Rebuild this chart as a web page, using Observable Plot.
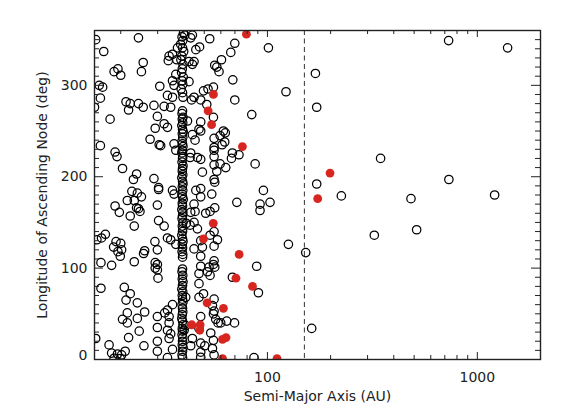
<!DOCTYPE html>
<html><head><meta charset="utf-8">
<script src="https://cdn.jsdelivr.net/npm/d3@7"></script>
<script src="https://cdn.jsdelivr.net/npm/@observablehq/plot@0.6"></script>
<style>body{margin:0;background:#fff}</style>
</head><body><div id="chart"></div>
<script>
// Black open circles: semi-major axis (AU) and longitude of ascending node (deg)
const blackAU = [122.6,169.3,171.7,730,1394,346,171.7,225,483,732,1209,323,514,125.9,152.2,162.5,101.1,84.2,87.4,95.7,92.2,92.2,102.9,88.9,90.6,86.3,
53.1,69.9,66.9,60.4,56.1,57.4,58.8,68.4,55.3,52.1,49.6,69.9,48.1,51.4,55.3,48.1,48.1,61.7,63.0,62.6,60.8,55.7,55.7,68.1,73.2,67.4,55.7,48.1,59.5,63.3,57.4,49.0,55.7,56.1,48.1,48.1,54.3,71.5,56.1,53.3,50.8,53.3,55.7,57.8,55.7,49.0,48.1,55.7,55.3,56.1,52.7,51.8,53.3,48.1,68.1,49.6,55.7,54.7,55.7,55.3,56.7,58.2,59.9,64.0,69.7,48.1,53.7,55.3,50.3,55.7,
43.9,43.1,40.4,47.5,45.6,42.3,44.7,43.9,42.3,43.5,59.5,43.9,55.7,43.1,42.8,46.4,55.7,44.7,43.1,44.7,42.8,41.1,48.1,44.7,47.2,40.8,43.9,54.7,48.1,48.1,48.1,43.1,40.8,40.1,44.7,47.2,45.2,41.6,45.6,45.2,46.4,47.2,47.2,47.2,
34.0,35.3,33.7,37.3,37.0,36.6,35.3,35.9,33.4,35.3,34.6,33.4,35.9,36.6,35.3,35.9,33.4,34.6,36.6,33.4,34.0,34.0,34.6,34.0,35.3,33.4,33.4,35.3,
15.2,24.3,16.6,25.6,25.1,19.4,18.6,20.0,15.8,16.4,30.7,16.0,21.2,22.2,21.8,24.3,25.6,28.8,17.8,29.9,29.2,32.2,27.6,30.5,31.0,16.0,18.8,19.2,20.4,23.8,23.0,28.8,30.3,30.3,22.6,24.0,25.1,21.5,23.2,18.8,19.7,29.9,23.8,24.3,24.7,22.2,23.2,30.3,32.2,
16.9,16.2,15.4,19.0,20.0,18.5,20.2,19.4,19.9,29.1,29.9,26.0,25.7,16.1,18.1,23.2,29.2,29.9,29.2,29.9,30.1,16.1,20.8,22.2,21.2,24.0,21.5,20.4,21.5,26.0,24.0,29.9,32.4,29.9,24.5,21.8,29.9,15.2,17.6,25.8,18.1,19.3,20.2,21.0,18.6,19.9,29.9,15.0,32.2];
const blackDeg = [293,313,276,349,341,220,192,179,176,197,180,136,142,126,117,34,341,268,214,185,170,163,172,102,73,2,
351,346,336,328,322,320,315,306,298,296,294,284,284,279,265,260,250,250,248,238,235,232,229,226,224,220,222,219,214,210,206,205,197,194,187,178,181,172,166,162,160,136,140,131,124,123,113,108,104,101,101,96,92,102,90,72,66,59,53,50,44,40,40,42,40,47,29,21,15,5,
355,352,355,342,339,326,326,323,304,284,245,246,242,226,221,221,213,170,161,150,147,149,130,121,68,68,23,12,18,8,2.5,15,37,32,287,252,240,261,185,162,143,94,83,34,
332,334,327,341,328,312,305,300,289,287,276,254,236,229,185,181,133,131,126,54,47,40,28,23,60,32,2,11,
350,352,337,325,315,318,315,311,300,298,299,286,282,280,273,280,276,278,263,266,253,258,241,235,234,234,227,222,209,203,197,198,188,186,184,182,178,174,174,168,161,169,166,165,162,157,146,152,146,
137,133,131,129,127,123,120,118,113,129,120,119,116,106,103,107,106,104,100,98,89,78,79,72,65,62,51,44,40,52,45,47,51,35,31,24,20,23,16,15,7,6,5,9,1.4,1,9,276,277];

// Dense Plutino column near 39.4 AU
const columnAU = [39.8,39.2,39.5,38.6,39.4,39.9,39.1,38.7,39.6,39.3,39.0,39.7,39.2,39.5,38.8,39.4,39.6,
39.4,39.2,39.6,39.3,39.5,39.1,39.4,39.7,39.3,39.5,39.2,39.4,39.6,39.3,39.1,39.5,39.4,39.2,39.6,39.4,39.3,39.5,39.1,39.4,39.6,39.3,39.5,39.2,39.4,39.7,39.3,39.4,39.1,39.5,39.4,39.2,39.6,39.3,39.5,39.4,39.1,39.4,39.6,39.3,39.4,39.2,39.5,39.4,
39.4,39.2,39.5,39.3,39.6,39.4,39.1,39.5,39.3,39.4,39.6,39.2,39.4,39.5,39.3,39.1,39.4,39.6,39.3,39.4,39.2,39.5,39.4,39.3,39.6,39.4,39.2,39.4];
const columnDeg = [357,353,349,345,341,337,332,328,323,318,314,309,305,301,296,292,287,
272,269,265,263,259,256,252,249,247,243,239,236,233,229,226,222,220,216,212,209,206,202,199,195,192,189,185,181,178,175,171,168,164,161,157,154,150,146,143,140,136,132,129,126,122,118,115,112,
99,96,92,88,85,81,77,74,70,66,63,60,56,52,49,45,42,38,34,31,27,24,20,16,13,9,5,2];

// Red filled circles
const redAU = [79.4,55.3,52.2,54.2,76.0,55.2,49.6,73.3,70.8,84.9,51.6,61.7,43.6,47.8,47.6,61.1,63.5,61.1,111.1,198.7,173.6];
const redDeg = [356,290,272,257,233,149,132,115,89,80,62,56,38,38,32,22,24,1,1,204,176];

// Dashed divider and ticks
const dividerAU = [150];
const xMajor = [100, 1000];
const xMinor = [20,30,40,50,60,70,80,90,200,300,400,500,600,700,800,900];
const yMajor = [0, 100, 200, 300];
const yMinor = [10,20,30,40,50,60,70,80,90,110,120,130,140,150,160,170,180,190,210,220,230,240,250,260,270,280,290,310,320,330,340,350];

const black = blackAU.map((a, i) => ({a, d: blackDeg[i]}))
  .concat(columnAU.map((a, i) => ({a, d: columnDeg[i]})));
const red = redAU.map((a, i) => ({a, d: redDeg[i]}));

const W = 568, H = 419, mL = 94, mR = 28, mT = 30, mB = 60;
const fw = W - mL - mR, fh = H - mT - mB;
const ink = "#222";

const chart = Plot.plot({
  width: W, height: H,
  marginLeft: mL, marginRight: mR, marginTop: mT, marginBottom: mB,
  style: {fontFamily: "DejaVu Sans", fontSize: "14px", color: ink, background: "#fff"},
  x: {type: "log", domain: [15, 2000], label: null},
  y: {domain: [0, 360], label: null},
  marks: [
    Plot.dot(black, {x: "a", y: "d", r: 4.2, stroke: "#000", strokeWidth: 1.25, fill: "none", clip: true}),
    Plot.dot(red, {x: "a", y: "d", r: 4.4, fill: "#d6261f", stroke: "none", clip: true}),
    Plot.ruleX(dividerAU, {x: d => d, stroke: "#333", strokeWidth: 1, strokeDasharray: "5,3.5"}),
    // inward ticks: bottom/top
    Plot.tickX(xMajor, {x: d => d, insetTop: fh - 7, stroke: ink, strokeWidth: 1}),
    Plot.tickX(xMajor, {x: d => d, insetBottom: fh - 7, stroke: ink, strokeWidth: 1}),
    Plot.tickX(xMinor, {x: d => d, insetTop: fh - 4, stroke: ink, strokeWidth: 1}),
    Plot.tickX(xMinor, {x: d => d, insetBottom: fh - 4, stroke: ink, strokeWidth: 1}),
    // inward ticks: left/right
    Plot.tickY(yMajor, {y: d => d, insetRight: fw - 9, stroke: ink, strokeWidth: 1}),
    Plot.tickY(yMajor, {y: d => d, insetLeft: fw - 9, stroke: ink, strokeWidth: 1}),
    Plot.tickY(yMinor, {y: d => d, insetRight: fw - 5, stroke: ink, strokeWidth: 1}),
    Plot.tickY(yMinor, {y: d => d, insetLeft: fw - 5, stroke: ink, strokeWidth: 1}),
    Plot.frame({stroke: ink, strokeWidth: 1.4}),
    Plot.axisX({ticks: xMajor, tickSize: 0, tickPadding: 13, tickFormat: d => String(d), fontSize: 14, label: null}),
    Plot.axisY({ticks: yMajor.filter(d => d > 0), tickSize: 0, tickPadding: 7, tickFormat: d => String(d), fontSize: 14, label: null}),
    Plot.axisY({ticks: [0], tickSize: 0, tickPadding: 7, tickFormat: d => String(d), fontSize: 14, dy: -4, label: null}),
    Plot.text(["Semi-Major Axis (AU)"], {frameAnchor: "bottom", dy: 37, lineAnchor: "middle", textAnchor: "middle", fontSize: 14, fill: ink}),
    Plot.text(["Longitude of Ascending Node (deg)"], {frameAnchor: "left", dx: -52, rotate: -90, textAnchor: "middle", lineAnchor: "middle", fontSize: 14, fill: ink})
  ]
});
document.getElementById("chart").appendChild(chart);
</script>
</body></html>
